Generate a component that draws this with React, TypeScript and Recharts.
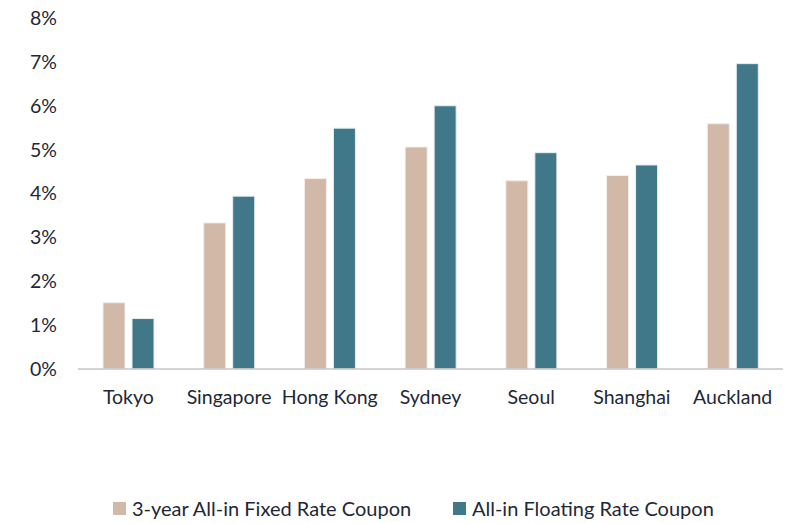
import React from "react";
import { BarChart, Bar, XAxis, YAxis, Legend } from "recharts";

// Coupon rates (%) by city
const cities = ["Tokyo", "Singapore", "Hong Kong", "Sydney", "Seoul", "Shanghai", "Auckland"];
const fixedCoupon = [1.51, 3.33, 4.34, 5.06, 4.29, 4.41, 5.59];
const floatingCoupon = [1.15, 3.94, 5.49, 6.0, 4.93, 4.65, 6.96];
const yTicks = [0, 1, 2, 3, 4, 5, 6, 7, 8];

const seriesNames = ["3-year All-in Fixed Rate Coupon", "All-in Floating Rate Coupon"];
const colors = ["#D2B8A6", "#40788A"];

const data = cities.map((city, i) => ({
  city,
  fixed: fixedCoupon[i],
  floating: floatingCoupon[i],
}));

const FONT = "Lato, 'Noto Sans', sans-serif";
const TEXT = "#1E2836";

const LegendContent = () => (
  <div style={{ display: "flex", fontFamily: FONT, fontSize: 20, color: TEXT, lineHeight: "24px" }}>
    {seriesNames.map((name, i) => (
      <div key={name} style={{ display: "flex", alignItems: "center", width: i === 0 ? 340 : "auto" }}>
        <span
          style={{
            display: "inline-block",
            width: 13,
            height: 13,
            background: colors[i],
            marginRight: 6,
          }}
        />
        <span style={{ whiteSpace: "nowrap" }}>{name}</span>
      </div>
    ))}
  </div>
);

export default function App() {
  return (
    <div style={{ position: "absolute", left: 0, top: 0, background: "#fff" }}>
      <BarChart
        width={799}
        height={523}
        data={data}
        margin={{ top: 18, right: 16, left: 0, bottom: 0 }}
        barGap={7}
        barCategoryGap="24.5%"
      >
        <XAxis
          dataKey="city"
          height={154}
          interval={0}
          tickLine={false}
          tickMargin={15}
          axisLine={{ stroke: "#C6C6C6", strokeWidth: 1.5 }}
          tick={{ fill: TEXT, fontSize: 19.5, fontFamily: FONT }}
        />
        <YAxis
          width={78}
          domain={[0, 8]}
          ticks={yTicks}
          interval={0}
          axisLine={false}
          tickLine={false}
          tickMargin={15}
          tickFormatter={(v: number) => `${v}%`}
          tick={{ fill: TEXT, fontSize: 19.5, fontFamily: FONT }}
        />
        <Legend
          layout="horizontal"
          verticalAlign="middle"
          align="center"
          content={<LegendContent />}
          wrapperStyle={{ top: 496, left: 113, width: 660 }}
        />
        <Bar
          dataKey="fixed"
          name={seriesNames[0]}
          fill={colors[0]}
          stroke="#F3EEEA"
          strokeWidth={1}
          barSize={22}
          isAnimationActive={false}
        />
        <Bar
          dataKey="floating"
          name={seriesNames[1]}
          fill={colors[1]}
          stroke="#E6EEF1"
          strokeWidth={1}
          barSize={22}
          isAnimationActive={false}
        />
      </BarChart>
    </div>
  );
}
